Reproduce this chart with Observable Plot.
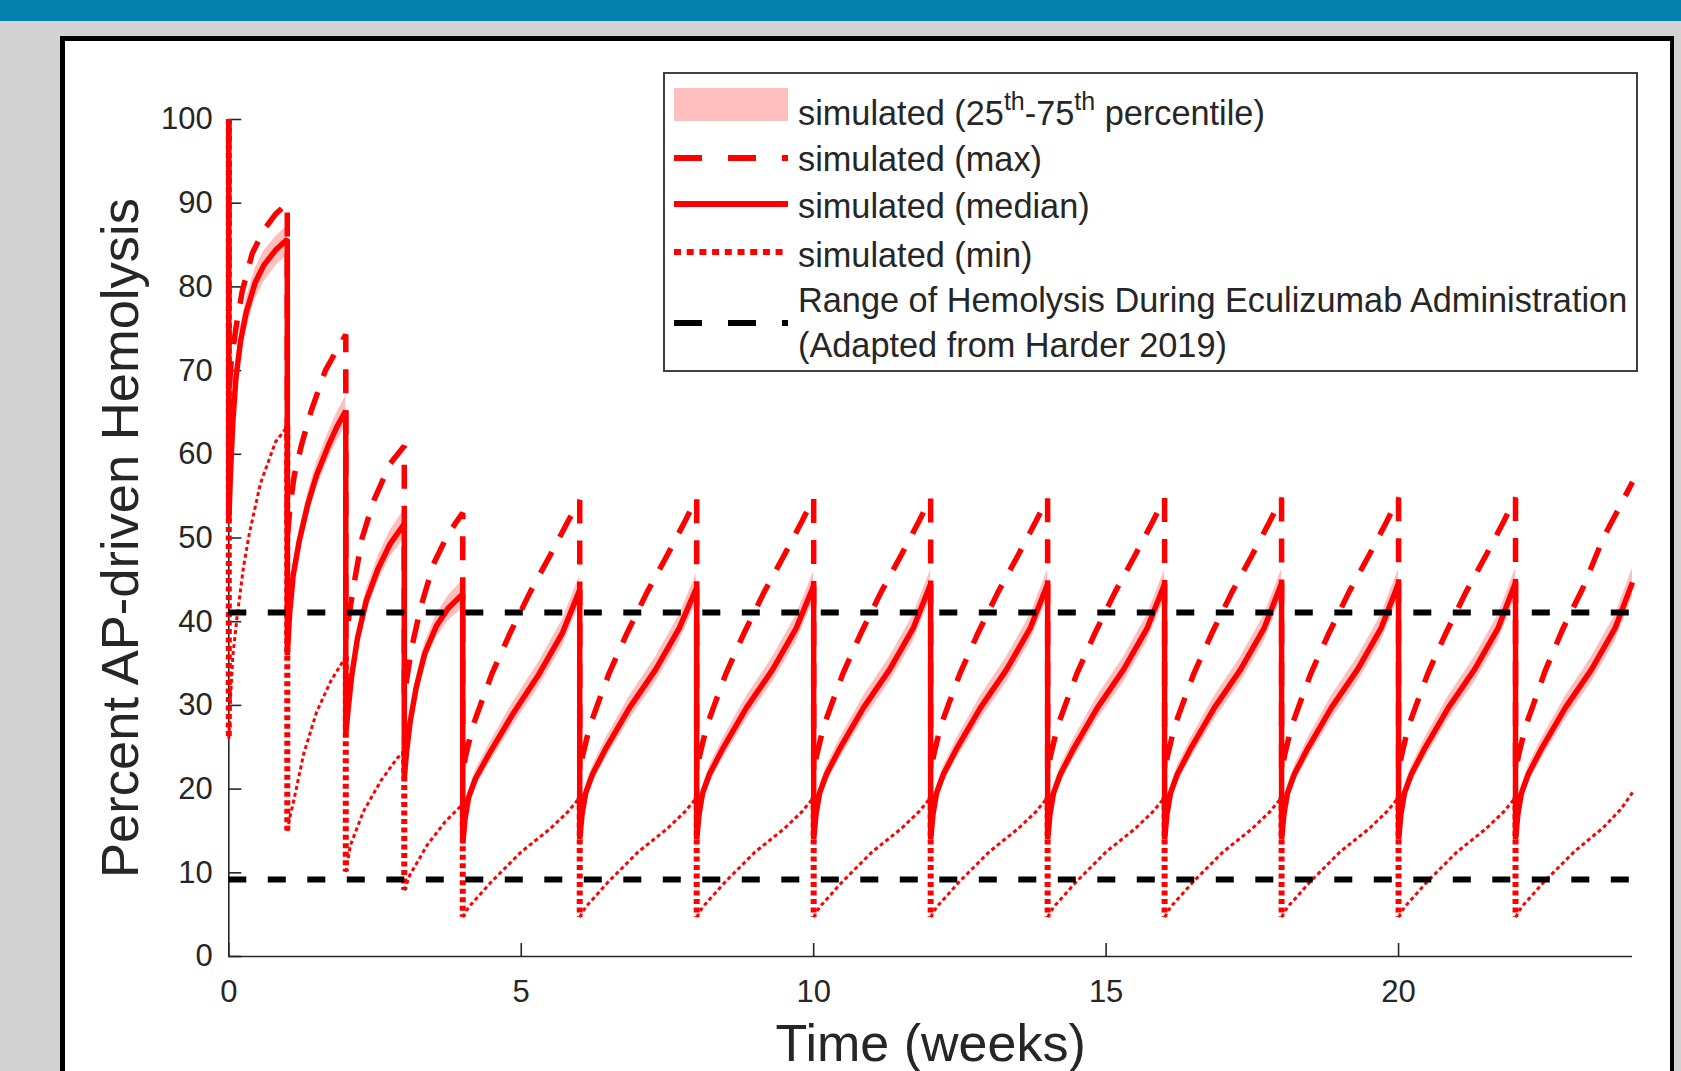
<!DOCTYPE html>
<html>
<head>
<meta charset="utf-8">
<script src="https://cdn.jsdelivr.net/npm/d3@7"></script>
<script src="https://cdn.jsdelivr.net/npm/@observablehq/plot@0.6"></script>
<style>
html, body { margin: 0; padding: 0; }
body { width: 1681px; height: 1071px; overflow: hidden; background: #d3d3d3; position: relative; font-family: "Liberation Sans", Arial, Helvetica, sans-serif; }
#topbar { position: absolute; left: 0; top: 0; width: 1681px; height: 21px; background: #0380ae; }
#panel { position: absolute; left: 60px; top: 36px; width: 1605px; height: 1100px; background: #fff; border: 5px solid #000; border-right-width: 4px; }
#chart { position: absolute; left: 0; top: 0; }
#legend { position: absolute; left: 0; top: 0; pointer-events: none; }
</style>
</head>
<body>
<div id="topbar"></div>
<div id="panel"></div>
<div id="chart"></div>
<svg id="legend" width="1681" height="1071" font-family="'Liberation Sans', Arial, Helvetica, sans-serif">
  <rect x="664" y="73" width="973" height="298" fill="#fff" stroke="#404040" stroke-width="2"/>
  <rect x="674" y="88" width="114" height="33" fill="#ffbfbf"/>
  <line x1="674" x2="788" y1="158" y2="158" stroke="#ff0000" stroke-width="6" stroke-dasharray="28,26"/>
  <line x1="674" x2="788" y1="204" y2="204" stroke="#ff0000" stroke-width="6"/>
  <line x1="674" x2="788" y1="252" y2="252" stroke="#ff0000" stroke-width="6" stroke-dasharray="7,5.7"/>
  <line x1="674" x2="788" y1="323" y2="323" stroke="#000" stroke-width="6" stroke-dasharray="28,26"/>
  <g fill="#262626" font-size="34.3">
    <text x="798" y="125">simulated (25<tspan dy="-15" font-size="25">th</tspan><tspan dy="15">-75</tspan><tspan dy="-15" font-size="25">th</tspan><tspan dy="15"> percentile)</tspan></text>
    <text x="798" y="171">simulated (max)</text>
    <text x="798" y="218">simulated (median)</text>
    <text x="798" y="266.5">simulated (min)</text>
    <text x="798" y="312">Range of Hemolysis During Eculizumab Administration</text>
    <text x="798" y="357">(Adapted from Harder 2019)</text>
  </g>
</svg>
<script>
// ---- data (time in weeks, percent AP-driven hemolysis) ----
const initialValue = 100;            // pre-dose value at t = 0
const xTicks = [0, 5, 10, 15, 20];
const yTicks = [0, 10, 20, 30, 40, 50, 60, 70, 80, 90, 100];
const harderRange = [41.1, 9.2];     // black dashed range lines

// median cycles: [t, 25th pct, median, 75th pct]
const medianCycles = [
  [[0,51,52,53],[0.03,56.5,58,59.5],[0.07,62,64,65.5],[0.12,67,69,70.6],[0.2,71.6,73.5,75.2],[0.3,75,77,78.7],[0.45,78.5,80.5,82.2],[0.6,80.6,82.6,84.3],[0.8,82.5,84.4,86],[1,83.8,85.7,87.3]],
  [[1,35.4,36,36.8],[1.04,40,41,42],[1.1,44.3,45.5,46.7],[1.2,48.2,49.5,50.8],[1.35,52.6,54,55.4],[1.5,56,57.5,59],[1.7,59.4,61,62.6],[1.85,61.6,63.3,65],[2,63.4,65.2,67]],
  [[2,26,26.6,27.3],[2.04,28.6,29.5,30.5],[2.1,32.4,33.5,34.6],[2.2,36.8,38,39.3],[2.35,41.1,42.5,43.9],[2.55,44.8,46.3,47.8],[2.75,47.6,49.2,50.8],[3,50,51.7,53.4]],
  [[3,20.8,21.4,22],[3.04,23.6,24.5,25.4],[3.1,27,28,29],[3.2,30.9,32,33.2],[3.35,35,36.2,37.5],[3.55,38.1,39.5,40.9],[3.75,40.1,41.6,43.1],[4,41.6,43.3,45]],
  [[4,13,13.5,14],[4.04,15.8,16.5,17.3],[4.1,18.2,19,19.9],[4.22,20.3,21.3,22.3],[4.45,23,24.2,25.4],[4.85,27.5,28.9,30.3],[5.3,32.2,33.7,35.2],[5.7,37,38.6,40.2],[6,42.1,43.8,45.5]],
  [[6,13.4,14,14.6],[6.04,16.2,17,17.8],[6.1,18.6,19.5,20.4],[6.22,20.8,21.8,22.8],[6.45,23.7,24.9,26.1],[6.85,28.3,29.7,31.1],[7.3,32.8,34.3,35.8],[7.7,37.6,39.2,40.8],[8,42.4,44.1,45.8]],
  [[8,13.4,14,14.6],[8.04,16.2,17,17.8],[8.1,18.6,19.5,20.4],[8.22,20.8,21.8,22.8],[8.45,23.7,24.9,26.1],[8.85,28.3,29.7,31.1],[9.3,32.8,34.3,35.8],[9.7,37.6,39.2,40.8],[10,42.6,44.3,46]],
  [[10,13.4,14,14.6],[10.04,16.2,17,17.8],[10.1,18.6,19.5,20.4],[10.22,20.8,21.8,22.8],[10.45,23.7,24.9,26.1],[10.85,28.3,29.7,31.1],[11.3,32.8,34.3,35.8],[11.7,37.6,39.2,40.8],[12,42.8,44.5,46.2]],
  [[12,13.4,14,14.6],[12.04,16.2,17,17.8],[12.1,18.6,19.5,20.4],[12.22,20.8,21.8,22.8],[12.45,23.7,24.9,26.1],[12.85,28.3,29.7,31.1],[13.3,32.8,34.3,35.8],[13.7,37.6,39.2,40.8],[14,42.8,44.5,46.2]],
  [[14,13.4,14,14.6],[14.04,16.2,17,17.8],[14.1,18.6,19.5,20.4],[14.22,20.8,21.8,22.8],[14.45,23.7,24.9,26.1],[14.85,28.3,29.7,31.1],[15.3,32.8,34.3,35.8],[15.7,37.6,39.2,40.8],[16,42.8,44.5,46.2]],
  [[16,13.4,14,14.6],[16.04,16.2,17,17.8],[16.1,18.6,19.5,20.4],[16.22,20.8,21.8,22.8],[16.45,23.7,24.9,26.1],[16.85,28.3,29.7,31.1],[17.3,32.8,34.3,35.8],[17.7,37.6,39.2,40.8],[18,42.9,44.6,46.3]],
  [[18,13.4,14,14.6],[18.04,16.2,17,17.8],[18.1,18.6,19.5,20.4],[18.22,20.8,21.8,22.8],[18.45,23.7,24.9,26.1],[18.85,28.3,29.7,31.1],[19.3,32.8,34.3,35.8],[19.7,37.6,39.2,40.8],[20,42.9,44.6,46.3]],
  [[20,13.4,14,14.6],[20.04,16.2,17,17.8],[20.1,18.6,19.5,20.4],[20.22,20.8,21.8,22.8],[20.45,23.7,24.9,26.1],[20.85,28.3,29.7,31.1],[21.3,32.8,34.3,35.8],[21.7,37.6,39.2,40.8],[22,43,44.7,46.4]],
  [[22,13.4,14,14.6],[22.04,16.2,17,17.8],[22.1,18.6,19.5,20.4],[22.22,20.8,21.8,22.8],[22.45,23.7,24.9,26.1],[22.85,28.3,29.7,31.1],[23.3,32.8,34.3,35.8],[23.7,37.6,39.2,40.8],[24,43,44.7,46.4]]
];

// max cycles: [t, value]
const maxCycles = [
  [[0,67],[0.04,71],[0.12,75],[0.23,79.5],[0.4,84],[0.6,86.8],[0.8,88.7],[1,90]],
  [[1,50],[1.05,54],[1.12,57.5],[1.25,61.3],[1.4,65],[1.65,70],[1.85,72.5],[2,74.3]],
  [[2,38],[2.05,40.5],[2.14,44.5],[2.28,50],[2.48,54.5],[2.76,58.9],[3,61]],
  [[3,31],[3.05,33.5],[3.13,37],[3.28,41.7],[3.5,46.9],[3.75,50.5],[4,53]],
  [[4,22],[4.05,24],[4.17,27.5],[4.3,30],[4.5,33.8],[4.8,38.5],[5.15,43.5],[5.5,48],[5.8,52],[6,54.5]],
  [[6,22],[6.05,24],[6.17,27.5],[6.3,30],[6.5,33.8],[6.8,38.5],[7.15,43.5],[7.5,48],[7.8,52],[8,54.8]],
  [[8,22],[8.05,24],[8.17,27.5],[8.3,30],[8.5,33.8],[8.8,38.5],[9.15,43.5],[9.5,48],[9.8,52],[10,54.8]],
  [[10,22],[10.05,24],[10.17,27.5],[10.3,30],[10.5,33.8],[10.8,38.5],[11.15,43.5],[11.5,48],[11.8,52],[12,54.8]],
  [[12,22],[12.05,24],[12.17,27.5],[12.3,30],[12.5,33.8],[12.8,38.5],[13.15,43.5],[13.5,48],[13.8,52],[14,54.8]],
  [[14,22],[14.05,24],[14.17,27.5],[14.3,30],[14.5,33.8],[14.8,38.5],[15.15,43.5],[15.5,48],[15.8,52],[16,54.8]],
  [[16,22],[16.05,24],[16.17,27.5],[16.3,30],[16.5,33.8],[16.8,38.5],[17.15,43.5],[17.5,48],[17.8,52],[18,54.8]],
  [[18,22],[18.05,24],[18.17,27.5],[18.3,30],[18.5,33.8],[18.8,38.5],[19.15,43.5],[19.5,48],[19.8,52],[20,54.8]],
  [[20,22],[20.05,24],[20.17,27.5],[20.3,30],[20.5,33.8],[20.8,38.5],[21.15,43.5],[21.5,48],[21.8,52],[22,54.8]],
  [[22,22],[22.05,24],[22.17,27.5],[22.3,30],[22.5,34],[22.8,39],[23.15,44],[23.5,50],[23.8,54],[24,56.7]]
];

// min cycles: [t, value]
const minCycles = [
  [[0,26],[0.03,31],[0.07,36],[0.14,40.5],[0.25,46.5],[0.35,50.5],[0.54,56.5],[0.8,61.5],[1,63.3]],
  [[1,15],[1.05,16.8],[1.11,18.6],[1.28,24.2],[1.5,29.2],[1.75,33],[2,35.8]],
  [[2,10.1],[2.08,13.3],[2.3,17.3],[2.6,21],[2.88,23.7],[3,24.5]],
  [[3,7.9],[3.1,9.8],[3.4,13.4],[3.7,16.1],[4,18.2]],
  [[4,4.7],[4.1,5.9],[4.5,9],[5,12.5],[5.5,15.3],[5.8,17.3],[6,19]],
  [[6,4.7],[6.1,5.9],[6.5,9],[7,12.5],[7.5,15.3],[7.8,17.3],[8,19]],
  [[8,4.7],[8.1,5.9],[8.5,9],[9,12.5],[9.5,15.3],[9.8,17.3],[10,19]],
  [[10,4.7],[10.1,5.9],[10.5,9],[11,12.5],[11.5,15.3],[11.8,17.3],[12,19]],
  [[12,4.7],[12.1,5.9],[12.5,9],[13,12.5],[13.5,15.3],[13.8,17.3],[14,19]],
  [[14,4.7],[14.1,5.9],[14.5,9],[15,12.5],[15.5,15.3],[15.8,17.3],[16,19]],
  [[16,4.7],[16.1,5.9],[16.5,9],[17,12.5],[17.5,15.3],[17.8,17.3],[18,19]],
  [[18,4.7],[18.1,5.9],[18.5,9],[19,12.5],[19.5,15.3],[19.8,17.3],[20,19]],
  [[20,4.7],[20.1,5.9],[20.5,9],[21,12.5],[21.5,15.3],[21.8,17.3],[22,19]],
  [[22,4.7],[22.1,5.9],[22.5,9],[23,12.5],[23.5,15.4],[23.8,17.6],[24,19.6]]
];

// ---- tables built from the arrays above ----
const bandRows = medianCycles.flatMap((c, i) => c.map(([t, lo, , hi]) => ({t, lo, hi, cycle: i})));
const medianRows = [{t: 0, v: initialValue}, ...medianCycles.flat().map(([t, , med]) => ({t, v: med}))];
const maxRows = [{t: 0, v: initialValue}, ...maxCycles.flat().map(([t, v]) => ({t, v}))];
const minCurveRows = minCycles.flatMap((c, i) => c.map(([t, v]) => ({t, v, cycle: i})));
const minDrops = minCycles.map((c, i) => ({
  t: c[0][0],
  from: i === 0 ? initialValue : minCycles[i - 1][minCycles[i - 1].length - 1][1],
  to: c[0][1]
}));

const ink = "#262626";
const font = "'Liberation Sans', Arial, Helvetica, sans-serif";

const chart = Plot.plot({
  width: 1681,
  height: 1071,
  marginLeft: 228.3,
  marginRight: 49,
  marginTop: 119,
  marginBottom: 115,
  style: {background: "transparent", fontFamily: font, fontSize: "31px", color: ink, overflow: "visible"},
  x: {domain: [0, 24], label: null},
  y: {domain: [0, 100], label: null},
  marks: [
    Plot.ruleX([0], {stroke: ink, strokeWidth: 1.6}),
    Plot.ruleY([0], {stroke: ink, strokeWidth: 1.6}),
    Plot.axisY({ticks: yTicks, tickSize: -13, tickPadding: 29, color: ink, fontSize: 31, strokeWidth: 1.6}),
    Plot.axisX({ticks: xTicks, tickSize: -13, tickPadding: 36, color: ink, fontSize: 31, strokeWidth: 1.6}),
    Plot.areaY(bandRows, {x: "t", y1: "lo", y2: "hi", z: "cycle", fill: "#ffbfbf", curve: "linear"}),
    Plot.line(maxRows, {x: "t", y: "v", stroke: "#ff0000", strokeWidth: 5.5, strokeDasharray: "24,17", strokeLinecap: "butt", strokeLinejoin: "miter"}),
    Plot.line(medianRows, {x: "t", y: "v", stroke: "#ff0000", strokeWidth: 5.5, strokeLinecap: "butt", strokeLinejoin: "miter"}),
    Plot.line(minCurveRows, {x: "t", y: "v", z: "cycle", stroke: "#ff0000", strokeWidth: 3, strokeDasharray: "4,3", strokeLinecap: "butt"}),
    Plot.ruleX(minDrops, {x: "t", y1: "from", y2: "to", stroke: "#ff0000", strokeWidth: 6, strokeDasharray: "5,3.5"}),
    Plot.ruleY(harderRange, {stroke: "#000", strokeWidth: 6, strokeDasharray: "18,21.5"}),
    Plot.text(["Percent AP-driven Hemolysis"], {text: d => d, frameAnchor: "left", rotate: -90, dx: -91, lineAnchor: "bottom", textAnchor: "middle", fontSize: 52.5, fill: ink}),
    Plot.text(["Time (weeks)"], {text: d => d, frameAnchor: "bottom", dy: 104, lineAnchor: "bottom", textAnchor: "middle", fontSize: 52, fill: ink})
  ]
});
document.getElementById("chart").appendChild(chart);
</script>
</body>
</html>
